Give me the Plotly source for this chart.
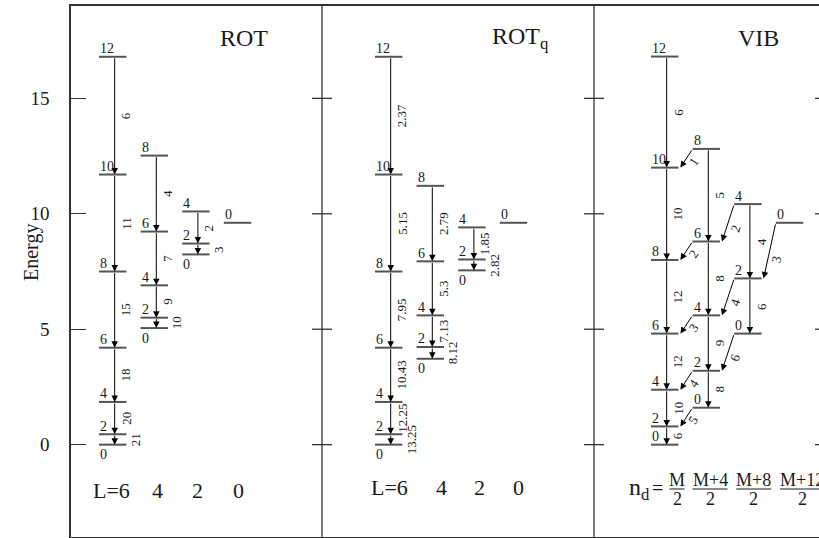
import math
import plotly.graph_objects as go

# ---------------- data ----------------
panel_titles = ["ROT", "ROT<sub>q</sub>", "VIB"]
y_tick_values = [0, 5, 10, 15]
bottom_L_labels = ["L=6", "4", "2", "0"]
vib_numerators = ["M", "M+4", "M+8", "M+12"]
vib_denominator = "2"

# ROT panel (spins, energies, intraband transition labels spin[i+1] -> spin[i])
rot_L6_spins = [0, 2, 4, 6, 8, 10, 12]
rot_L6_E = [0.0, 0.45, 1.85, 4.2, 7.5, 11.7, 16.8]
rot_L6_lab = ["21", "20", "18", "15", "11", "6"]
rot_L4_spins = [0, 2, 4, 6, 8]
rot_L4_E = [5.05, 5.5, 6.9, 9.23, 12.52]
rot_L4_lab = ["10", "9", "7", "4"]
rot_L2_spins = [0, 2, 4]
rot_L2_E = [8.24, 8.71, 10.1]
rot_L2_lab = ["3", "2"]
rot_L0_spins = [0]
rot_L0_E = [9.61]

# ROT_q panel
rotq_L6_spins = [0, 2, 4, 6, 8, 10, 12]
rotq_L6_E = [0.0, 0.45, 1.85, 4.2, 7.5, 11.7, 16.8]
rotq_L6_lab = ["13.25", "12.25", "10.43", "7.95", "5.15", "2.37"]
rotq_L4_spins = [0, 2, 4, 6, 8]
rotq_L4_E = [3.72, 4.23, 5.6, 7.94, 11.21]
rotq_L4_lab = ["8.12", "7.13", "5.3", "2.79"]
rotq_L2_spins = [0, 2, 4]
rotq_L2_E = [7.55, 8.02, 9.41]
rotq_L2_lab = ["2.82", "1.85"]
rotq_L0_spins = [0]
rotq_L0_E = [9.61]

# VIB panel
vib_c1_spins = [0, 2, 4, 6, 8, 10, 12]
vib_c1_E = [0.0, 0.79, 2.38, 4.81, 8.0, 12.0, 16.81]
vib_c1_lab = ["6", "10", "12", "12", "10", "6"]
vib_c2_spins = [0, 2, 4, 6, 8]
vib_c2_E = [1.6, 3.2, 5.6, 8.8, 12.81]
vib_c2_lab = ["8", "9", "8", "5"]
vib_c3_spins = [0, 2, 4]
vib_c3_E = [4.81, 7.2, 10.42]
vib_c3_lab = ["6", "4"]
vib_c4_spins = [0]
vib_c4_E = [9.61]
# interband (column k spin s -> column k-1 spin s+2)
vib_c2_to_c1_lab = ["5", "4", "3", "2", "1"]
vib_c3_to_c2_lab = ["6", "4", "2"]
vib_c4_to_c3_lab = ["3"]

# ---------------- layout constants ----------------
W, H = 819, 538
M_L, M_R, M_T, M_B = 71, 0, 6, 1
E_MIN, E_MAX = -4.0, 19.0
PPU = (H - M_T - M_B) / (E_MAX - E_MIN)
FONT = "Liberation Serif, DejaVu Serif, serif"
TXT = "#1a1a1a"
LEVEL_COL = "#555"

panel_c0 = [112.7, 388.7, 664.7]
COL_DX = 41.6
HALF_W = 13.7
ARROW_DX = 2.0
dividers = [322, 594, 825]


def px2E(ypx):
    return E_MAX - (ypx - M_T) / PPU


def dE(px):
    return px / PPU


def col_x(panel, col):
    return panel_c0[panel] + col * COL_DX


bands = [
    (0, 0, rot_L6_spins, rot_L6_E, rot_L6_lab),
    (0, 1, rot_L4_spins, rot_L4_E, rot_L4_lab),
    (0, 2, rot_L2_spins, rot_L2_E, rot_L2_lab),
    (0, 3, rot_L0_spins, rot_L0_E, []),
    (1, 0, rotq_L6_spins, rotq_L6_E, rotq_L6_lab),
    (1, 1, rotq_L4_spins, rotq_L4_E, rotq_L4_lab),
    (1, 2, rotq_L2_spins, rotq_L2_E, rotq_L2_lab),
    (1, 3, rotq_L0_spins, rotq_L0_E, []),
    (2, 0, vib_c1_spins, vib_c1_E, vib_c1_lab),
    (2, 1, vib_c2_spins, vib_c2_E, vib_c2_lab),
    (2, 2, vib_c3_spins, vib_c3_E, vib_c3_lab),
    (2, 3, vib_c4_spins, vib_c4_E, []),
]
band_lookup = {(p, c): (s, e) for p, c, s, e, _ in bands}

fig = go.Figure()
ann = []

lx, ly = [], []
for p, c, spins, Es, labs in bands:
    xc = col_x(p, c)
    xa = xc + ARROW_DX
    for i, (s, e) in enumerate(zip(spins, Es)):
        lx += [xc - HALF_W, xc + HALF_W, None]
        ly += [e, e, None]
        below = (s == 0 and len(Es) > 1 and Es[1] - Es[0] < 0.7)
        ann.append(dict(x=xc - HALF_W - 1, y=e + (-dE(10) if below else dE(8)),
                        text=str(s), showarrow=False, xanchor="left", yanchor="middle",
                        font=dict(family=FONT, size=14, color=TXT)))
    for i, lab in enumerate(labs):
        e_lo, e_hi = Es[i], Es[i + 1]
        ann.append(dict(x=xa, y=e_lo, ax=xa, ay=e_hi, axref="x", ayref="y",
                        xref="x", yref="y", text="", showarrow=True,
                        arrowhead=2, arrowsize=1.3, arrowwidth=1, arrowcolor="black",
                        standoff=0))
        off = 21 if (e_hi - e_lo) < 0.7 else 11
        ann.append(dict(x=xa + off, y=(e_lo + e_hi) / 2, text=lab, showarrow=False,
                        textangle=-90, xanchor="center", yanchor="middle",
                        font=dict(family=FONT, size=13, color=TXT)))

fig.add_trace(go.Scatter(x=lx, y=ly, mode="lines", line=dict(color=LEVEL_COL, width=2),
                         hoverinfo="skip", showlegend=False))

# interband diagonal arrows (VIB)
inter = [(1, vib_c2_to_c1_lab), (2, vib_c3_to_c2_lab), (3, vib_c4_to_c3_lab)]
for cfrom, labs in inter:
    s_from, e_from = band_lookup[(2, cfrom)]
    s_to, e_to = band_lookup[(2, cfrom - 1)]
    for i, lab in enumerate(labs):
        sf = s_from[i]
        ef = e_from[i]
        et = e_to[s_to.index(sf + 2)]
        x0 = col_x(2, cfrom) - HALF_W
        x1 = col_x(2, cfrom - 1) + HALF_W + 2
        ann.append(dict(x=x1, y=et, ax=x0, ay=ef, axref="x", ayref="y",
                        xref="x", yref="y", text="", showarrow=True,
                        arrowhead=2, arrowsize=1.3, arrowwidth=1, arrowcolor="black",
                        standoff=0))
        t = 0.65
        dy_px = (ef - et) * PPU
        ang = math.degrees(math.atan2(dy_px, x0 - x1))
        ann.append(dict(x=x0 + t * (x1 - x0) + 9, y=ef + t * (et - ef), text=lab,
                        showarrow=False, textangle=-ang, xanchor="center", yanchor="middle",
                        font=dict(family=FONT, size=13, color=TXT)))

# dividers and their ticks
dx_, dy_ = [], []
for xd in dividers:
    dx_ += [xd, xd, None]
    dy_ += [E_MIN, E_MAX, None]
    for tv in y_tick_values:
        dx_ += [xd - 10, xd + 10, None]
        dy_ += [tv, tv, None]
fig.add_trace(go.Scatter(x=dx_, y=dy_, mode="lines", line=dict(color="#333", width=1.3),
                         hoverinfo="skip", showlegend=False))

# titles
title_x = [244, 520, 758]
for t, xt in zip(panel_titles, title_x):
    ann.append(dict(x=xt, y=px2E(38), text=t, showarrow=False, xanchor="center",
                    yanchor="middle", font=dict(family=FONT, size=24, color=TXT)))

# bottom L labels
bottom_pos = [([111, 157, 197, 238], 490), ([389.5, 441.3, 479, 518.5], 487)]
for xs, ypx in bottom_pos:
    for lab, xb in zip(bottom_L_labels, xs):
        ann.append(dict(x=xb, y=px2E(ypx), text=lab, showarrow=False, xanchor="center",
                        yanchor="middle", font=dict(family=FONT, size=22, color=TXT)))

# VIB n_d fractions
ann.append(dict(x=639, y=px2E(489), text="n<sub>d</sub>", showarrow=False, xanchor="center",
                yanchor="middle", font=dict(family=FONT, size=24, color=TXT)))
ann.append(dict(x=657.5, y=px2E(488), text="=", showarrow=False, xanchor="center",
                yanchor="middle", font=dict(family=FONT, size=20, color=TXT)))
frac_x = [677, 710, 753.8, 802]
frac_w = [15, 35, 35, 44]
bx, by = [], []
for num, xf, wf in zip(vib_numerators, frac_x, frac_w):
    ann.append(dict(x=xf, y=px2E(480), text=num, showarrow=False, xanchor="center",
                    yanchor="middle", font=dict(family=FONT, size=18, color=TXT)))
    ann.append(dict(x=xf, y=px2E(499), text=vib_denominator, showarrow=False, xanchor="center",
                    yanchor="middle", font=dict(family=FONT, size=18, color=TXT)))
    bx += [xf - wf / 2, xf + wf / 2, None]
    by += [px2E(489), px2E(489), None]
fig.add_trace(go.Scatter(x=bx, y=by, mode="lines", line=dict(color=TXT, width=1),
                         hoverinfo="skip", showlegend=False, cliponaxis=False))

# y axis title (placed in paper coordinates, left of the axis)
plot_w = W - M_L - M_R
ann.append(dict(x=(31 - M_L) / plot_w, y=px2E(253), xref="paper", yref="y", text="Energy",
                showarrow=False, textangle=-90, xanchor="center", yanchor="middle",
                font=dict(family=FONT, size=20, color=TXT)))

fig.update_layout(
    width=W, height=H, autosize=False,
    margin=dict(l=M_L, r=M_R, t=M_T, b=M_B, autoexpand=False),
    paper_bgcolor="white", plot_bgcolor="white",
    annotations=ann, showlegend=False,
    xaxis=dict(range=[M_L, W - M_R], showgrid=False, zeroline=False, showticklabels=False,
               ticks="", showline=True, mirror=True, linecolor="#333", linewidth=1.5,
               fixedrange=True),
    yaxis=dict(range=[E_MIN, E_MAX], showgrid=False, zeroline=False, tickvals=y_tick_values,
               ticks="inside", ticklen=15, tickwidth=1.3, tickcolor="#333",
               showline=True, mirror=False, linecolor="#333", linewidth=1.5,
               tickfont=dict(family=FONT, size=19, color=TXT), ticklabelstandoff=16,
               fixedrange=True),
)

fig.write_html(
    "out.html",
    config={"displayModeBar": False, "responsive": False},
    post_script="document.body.style.margin='0px';document.body.style.overflow='hidden';",
)
